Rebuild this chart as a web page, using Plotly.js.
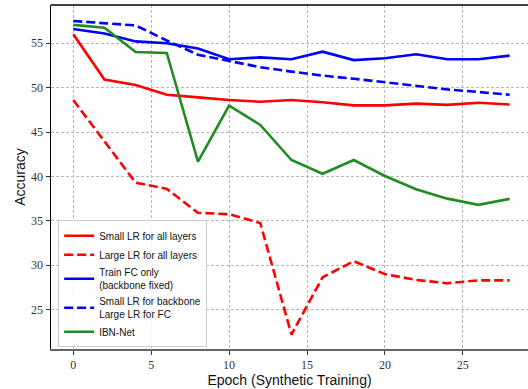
<!DOCTYPE html>
<html>
<head>
<meta charset="utf-8">
<script src="https://cdn.plot.ly/plotly-3.0.1.min.js"></script>
<style>html,body{margin:0;padding:0;background:#fff;}#chart{width:528px;height:389px;}</style>
</head>
<body>
<div id="chart"></div>
<script>
const epochs = [0, 2, 4, 6, 8, 10, 12, 14, 16, 18, 20, 22, 24, 26, 28];
const smallLRAll = [56.0, 50.9, 50.3, 49.2, 48.9, 48.6, 48.4, 48.6, 48.35, 48.0, 48.0, 48.2, 48.05, 48.3, 48.1];
const largeLRAll = [48.6, 43.9, 39.3, 38.6, 35.9, 35.75, 34.75, 22.2, 28.65, 30.45, 29.0, 28.35, 27.97, 28.3, 28.3];
const trainFCOnly = [56.6, 56.1, 55.2, 55.0, 54.4, 53.2, 53.4, 53.2, 54.05, 53.1, 53.3, 53.75, 53.2, 53.2, 53.6];
const smallBackboneLargeFC = [57.5, 57.25, 57.0, 55.3, 53.7, 53.0, 52.3, 51.8, 51.35, 51.0, 50.6, 50.2, 49.8, 49.5, 49.2];
const ibnNet = [57.06, 56.75, 54.0, 53.9, 41.67, 47.97, 45.8, 41.85, 40.3, 41.85, 40.05, 38.55, 37.5, 36.8, 37.47];
const seriesNames = ["Small LR for all layers", "Large LR for all layers", "Train FC only<br>(backbone fixed)", "Small LR for backbone<br>Large LR for FC", "IBN-Net"];
const xTicks = [0, 5, 10, 15, 20, 25];
const yTicks = [25, 30, 35, 40, 45, 50, 55];

const dashed = "9px,4px";
const traces = [
  {x: epochs, y: smallLRAll, name: seriesNames[0], line: {color: "#ff0000", width: 2.6}},
  {x: epochs, y: largeLRAll, name: seriesNames[1], line: {color: "#ff0000", width: 2.6, dash: dashed}},
  {x: epochs, y: trainFCOnly, name: seriesNames[2], line: {color: "#0000ff", width: 2.6}},
  {x: epochs, y: smallBackboneLargeFC, name: seriesNames[3], line: {color: "#0000ff", width: 2.6, dash: dashed}},
  {x: epochs, y: ibnNet, name: seriesNames[4], line: {color: "#228b22", width: 2.6}}
].map(t => Object.assign({type: "scatter", mode: "lines"}, t));

const tickFont = {family: "Liberation Serif, DejaVu Serif, serif", size: 12, color: "#333"};
const layout = {
  width: 528, height: 389,
  margin: {l: 51, r: 0, t: 5, b: 40},
  paper_bgcolor: "#fff", plot_bgcolor: "#fff",
  showlegend: true,
  legend: {
    x: 0.015, y: 0.005, xanchor: "left", yanchor: "bottom",
    bgcolor: "rgba(255,255,255,0.85)", bordercolor: "#cccccc", borderwidth: 1,
    font: {family: "Liberation Sans, DejaVu Sans, sans-serif", size: 10, color: "#111"},
    tracegroupgap: 0, itemwidth: 30
  },
  xaxis: {
    range: [-1.43, 29.18], tickvals: xTicks, ticktext: xTicks.map(String),
    showgrid: true, gridcolor: "#b8b8b8", griddash: "3px,2px", gridwidth: 1,
    zeroline: false, showline: true, linecolor: "#666", linewidth: 2,
    ticks: "outside", ticklen: 4, tickcolor: "#333", tickfont: tickFont,
    title: {text: "Epoch (Synthetic Training)", font: {family: "Liberation Sans, DejaVu Sans, sans-serif", size: 14, color: "#111"}, standoff: 3}
  },
  yaxis: {
    range: [20.57, 59.3], tickvals: yTicks, ticktext: yTicks.map(String),
    showgrid: true, gridcolor: "#b8b8b8", griddash: "3px,2px", gridwidth: 1,
    zeroline: false, showline: true, linecolor: "#000", linewidth: 1.5, mirror: false,
    ticks: "outside", ticklen: 4, tickcolor: "#333", tickfont: tickFont,
    title: {text: "Accuracy", font: {family: "Liberation Sans, DejaVu Sans, sans-serif", size: 14, color: "#111"}, standoff: 2}
  },
  shapes: [
    {type: "line", xref: "paper", yref: "paper", x0: 0, x1: 1, y0: 1, y1: 1, line: {color: "#000", width: 1.5}}
  ]
};
Plotly.newPlot("chart", traces, layout, {displayModeBar: false, staticPlot: true});
</script>
</body>
</html>
